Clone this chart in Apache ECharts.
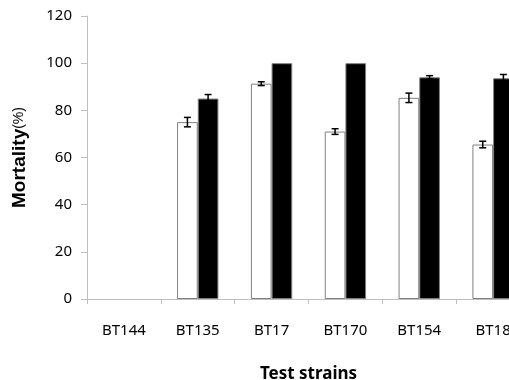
<!DOCTYPE html>
<html>
<head>
<meta charset="utf-8">
<script src="https://cdn.jsdelivr.net/npm/echarts@6/dist/echarts.min.js"></script>
<style>
  html, body { margin: 0; padding: 0; background: #fff; }
  #chart { width: 509px; height: 380px; }
</style>
</head>
<body>
<div id="chart"></div>
<script>
// test strains
const strains = ['BT144', 'BT135', 'BT17', 'BT170', 'BT154', 'BT18']
// mortality (%) — white bars and black bars
const whiteVals = [0, 75, 91.3, 71, 85.3, 65.5]
const blackVals = [0, 85, 100, 100, 94, 93.6]
// standard errors
const whiteErr = [0, 2, 0.8, 1.2, 2, 1.4]
const blackErr = [0, 1.7, 0, 0, 0.7, 1.6]
const yTicks = [0, 20, 40, 60, 80, 100, 120]

const catGap = 0.44
const axisGray = '#bfbfbf'
const font = '"Noto Sans", "Open Sans", sans-serif'
const titleFont = '"Liberation Sans", Arial, sans-serif'

// 0 값 막대는 테두리 없이
const toBarData = (vals) => vals.map((v) => v === 0 ? { value: v, itemStyle: { borderWidth: 0 } } : v)

// 오차막대 (error bar) drawing
const errItem = function (side) {
  return function (params, api) {
    const idx = api.value(0)
    const val = api.value(1)
    const err = api.value(2)
    if (!err) return null
    const band = api.size([1, 0])[0]
    const barW = band * (1 - catGap) / 2
    const mid = api.coord([idx, val])
    const x = mid[0] + side * barW / 2
    const hi = api.coord([idx, val + err])[1]
    const lo = api.coord([idx, val - err])[1]
    const cap = 3.5
    const st = { stroke: '#000', lineWidth: 1.5 }
    return {
      type: 'group',
      children: [
        { type: 'line', shape: { x1: x, y1: hi, x2: x, y2: lo }, style: st },
        { type: 'line', shape: { x1: x - cap, y1: hi, x2: x + cap, y2: hi }, style: st },
        { type: 'line', shape: { x1: x - cap, y1: lo, x2: x + cap, y2: lo }, style: st },
      ]
    }
  }
}

const chart = echarts.init(document.getElementById('chart'))
chart.setOption({
  animation: false,
  backgroundColor: '#fff',
  grid: { left: 87, top: 16, width: 443, height: 283, containLabel: false, outerBoundsMode: 'none' },
  xAxis: {
    type: 'category',
    data: strains,
    name: 'Test strains',
    nameLocation: 'middle',
    nameGap: 67,
    nameTextStyle: { fontFamily: font, fontWeight: 'bold', fontSize: 17, color: '#000' },
    axisLine: { lineStyle: { color: axisGray, width: 1 } },
    axisTick: { show: true, length: 5, lineStyle: { color: axisGray } },
    axisLabel: { margin: 24, fontFamily: font, fontSize: 15, color: '#000' },
  },
  yAxis: {
    type: 'value',
    min: yTicks[0],
    max: yTicks[yTicks.length - 1],
    interval: 20,
    name: '{b|Mortality}{s|(%)}',
    nameLocation: 'middle',
    nameGap: 58,
    nameRotate: 90,
    nameTextStyle: {
      rich: {
        b: { fontFamily: titleFont, fontWeight: 'bold', fontSize: 19, color: '#000' },
        s: { fontFamily: titleFont, fontSize: 14, color: '#000' },
      }
    },
    axisLine: { show: true, lineStyle: { color: axisGray, width: 1 } },
    axisTick: { show: true, length: 6, lineStyle: { color: axisGray } },
    axisLabel: { margin: 15, fontFamily: font, fontSize: 15, color: '#000' },
    splitLine: { show: false },
  },
  series: [
    {
      type: 'bar',
      data: toBarData(whiteVals),
      barGap: '0%',
      barCategoryGap: (catGap * 100) + '%',
      itemStyle: { color: '#fff', borderColor: '#808080', borderWidth: 1 },
    },
    {
      type: 'bar',
      data: toBarData(blackVals),
      itemStyle: { color: '#000', borderColor: '#808080', borderWidth: 1 },
    },
    {
      type: 'custom',
      renderItem: errItem(-1),
      data: strains.map((s, i) => [i, whiteVals[i], whiteErr[i]]),
      z: 10,
    },
    {
      type: 'custom',
      renderItem: errItem(1),
      data: strains.map((s, i) => [i, blackVals[i], blackErr[i]]),
      z: 10,
    },
  ]
})
</script>
</body>
</html>
